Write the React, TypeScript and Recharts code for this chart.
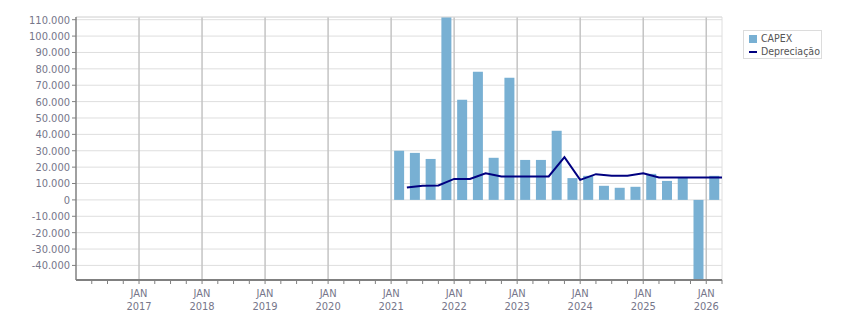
import React from 'react';
import {
  ComposedChart,
  Bar,
  Line,
  XAxis,
  YAxis,
  CartesianGrid,
  ReferenceLine,
} from 'recharts';

// quarters (year, quarter) for each reported value
const quarters = [
  '2021-1', '2021-2', '2021-3', '2021-4',
  '2022-1', '2022-2', '2022-3', '2022-4',
  '2023-1', '2023-2', '2023-3', '2023-4',
  '2024-1', '2024-2', '2024-3', '2024-4',
  '2025-1', '2025-2', '2025-3', '2025-4',
  '2026-1',
];

const capex = [
  30000, 28700, 25000, 112000,
  61100, 78200, 25700, 74500,
  24400, 24400, 42200, 13300,
  14700, 8600, 7400, 8000,
  15900, 11600, 13400, -49000,
  14700,
];

const depreciacao = [
  7600, 8700, 8800, 12800,
  12800, 16300, 14300, 14300,
  14300, 14300, 26100, 12200,
  15700, 14700, 14700, 16300,
  13700, 13700, 13700, 13700,
  13700,
];

const years = [2017, 2018, 2019, 2020, 2021, 2022, 2023, 2024, 2025, 2026];
const yTicks = [
  -40000, -30000, -20000, -10000, 0, 10000, 20000, 30000,
  40000, 50000, 60000, 70000, 80000, 90000, 100000, 110000,
];

const X_MIN = 2016;
const X_MAX = 2026.25;
const Y_MIN = -48900;
const Y_MAX = 111650;

// bars sit in the middle of the quarter, line points at the quarter end
const barRows = quarters.map((q, i) => {
  const [y, n] = q.split('-').map(Number);
  return { t: y + (n - 1) * 0.25 + 0.125, capex: capex[i] };
});
const lineRows = quarters.map((q, i) => {
  const [y, n] = q.split('-').map(Number);
  return { t: y + n * 0.25, dep: depreciacao[i] };
});

const minorTicks: number[] = [];
for (let k = 1; k <= (X_MAX - X_MIN) * 4; k++) minorTicks.push(X_MIN + k * 0.25);

const FONT = '"DejaVu Sans Condensed", "DejaVu Sans", sans-serif';
const TEXT = '#76768a';

const fmt = (v: number) => {
  const s = Math.abs(v).toString().replace(/\B(?=(\d{3})+(?!\d))/g, '.');
  return v < 0 ? '-' + s : s;
};

const XTick = (props: any) => {
  const { x, y, payload } = props;
  const v = payload.value;
  const isYear = Math.abs(v - Math.round(v)) < 0.001;
  if (!isYear || v < 2017) return null;
  return (
    <text x={x} y={y} textAnchor="middle" fill={TEXT} fontSize={11} fontFamily={FONT}>
      <tspan x={x} dy={11}>JAN</tspan>
      <tspan x={x} dy={13}>{v}</tspan>
    </text>
  );
};

export default function App() {
  return (
    <div style={{ position: 'absolute', left: 0, top: 0, width: 851, height: 313, background: '#fff' }}>
      <ComposedChart
        width={851}
        height={313}
        data={barRows}
        margin={{ top: 17, right: 129, bottom: 0, left: 0 }}
      >
        <CartesianGrid vertical={false} stroke="#dedede" strokeWidth={1} />
        {years.map((yr) => (
          <ReferenceLine key={yr} x={yr} stroke="#c4c4c4" strokeWidth={1.5} />
        ))}
        <ReferenceLine x={X_MAX} stroke="#dedede" />
        <ReferenceLine y={Y_MAX} stroke="#dedede" />
        <XAxis
          type="number"
          dataKey="t"
          domain={[X_MIN, X_MAX]}
          ticks={minorTicks}
          interval={0}
          allowDataOverflow
          height={33}
          tickSize={4}
          tickMargin={2}
          tickLine={{ stroke: '#808080' }}
          axisLine={{ stroke: '#808080', strokeWidth: 2 }}
          tick={<XTick />}
        />
        <XAxis
          xAxisId="line"
          type="number"
          dataKey="t"
          domain={[X_MIN, X_MAX]}
          allowDataOverflow
          hide
        />
        <YAxis
          type="number"
          domain={[Y_MIN, Y_MAX]}
          ticks={yTicks}
          interval={0}
          allowDataOverflow
          width={76}
          tickSize={4}
          tickLine={{ stroke: '#808080' }}
          axisLine={{ stroke: '#808080', strokeWidth: 1.5 }}
          tickFormatter={fmt}
          tick={{ fill: TEXT, fontSize: 11, fontFamily: FONT }}
        />
        <Bar dataKey="capex" fill="#78b0d3" barSize={10} isAnimationActive={false} />
        <Line
          xAxisId="line"
          data={lineRows}
          dataKey="dep"
          type="linear"
          stroke="#000080"
          strokeWidth={2}
          dot={false}
          isAnimationActive={false}
        />
      </ComposedChart>
      <div
        style={{
          position: 'absolute',
          left: 743,
          top: 30,
          width: 79,
          height: 29,
          border: '1px solid #dcdcdc',
          fontFamily: FONT,
          fontSize: 10.5,
          color: '#555',
          lineHeight: '13px',
          paddingTop: 1,
          boxSizing: 'border-box',
        }}
      >
        <div style={{ display: 'flex', alignItems: 'center', paddingLeft: 5 }}>
          <span style={{ display: 'inline-block', width: 8, height: 8, background: '#78b0d3', marginRight: 4 }} />
          CAPEX
        </div>
        <div style={{ display: 'flex', alignItems: 'center', paddingLeft: 5 }}>
          <span style={{ display: 'inline-block', width: 8, height: 2, background: '#000080', marginRight: 4 }} />
          Depreciação
        </div>
      </div>
    </div>
  );
}
